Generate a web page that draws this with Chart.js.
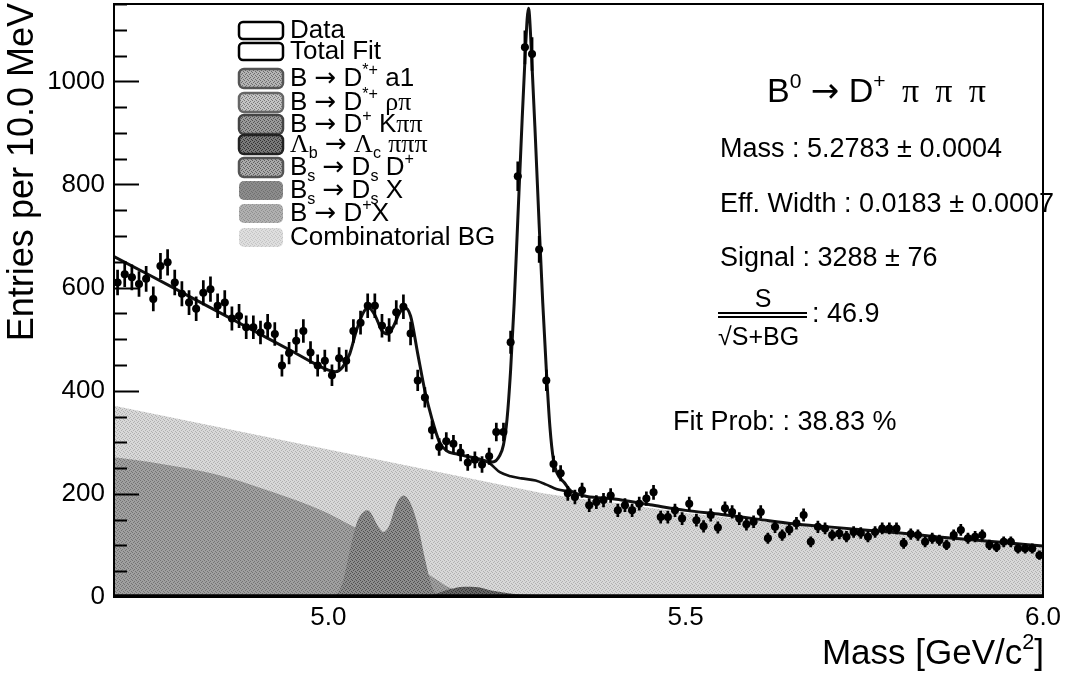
<!DOCTYPE html>
<html>
<head>
<meta charset="utf-8">
<script src="https://cdn.jsdelivr.net/npm/chart.js@4.4.0/dist/chart.umd.min.js"></script>
<style>
  html, body { margin: 0; padding: 0; background: #fff; }
  #wrap { width: 1067px; height: 675px; }
</style>
</head>
<body>
<div id="wrap"><canvas id="massPlot" width="1067" height="675"></canvas></div>
<script>
// ---------- histogram: entries per 10 MeV, 4.70 - 6.00 GeV ----------
const binLow = 4.70;
const binWidth = 0.01;
const counts = [
  610, 626, 620, 607, 617, 578, 642, 649, 610, 588,
  571, 559, 590, 597, 565, 571, 540, 545, 523, 523,
  513, 526, 510, 449, 473, 497, 516, 474, 449, 458,
  430, 463, 458, 516, 532, 565, 565, 526, 518, 552,
  563, 511, 420, 387, 324, 291, 302, 297, 280, 261,
  266, 257, 273, 320, 320, 494, 816, 1066, 1053, 674,
  420, 258, 240, 201, 194, 207, 178, 184, 188, 197,
  168, 178, 168, 181, 191, 203, 155, 155, 168, 152,
  181, 149, 137, 159, 135, 172, 165, 152, 141, 146,
  165, 114, 136, 120, 131, 143, 159, 107, 136, 133,
  120, 123, 117, 126, 124, 117, 126, 133, 133, 133,
  104, 122, 120, 107, 114, 110, 101, 120, 130, 114,
  117, 120, 101, 97, 107, 107, 94, 94, 94, 81
];

// ---------- total fit ----------
const fitMass = [4.70, 4.75, 4.80, 4.85, 4.90, 4.95, 4.98, 5.00, 5.01, 5.02,
  5.03, 5.04, 5.05, 5.056, 5.065, 5.075, 5.083, 5.09, 5.10, 5.107,
  5.115, 5.125, 5.135, 5.145, 5.155, 5.165, 5.18, 5.20, 5.22, 5.23,
  5.24, 5.245, 5.25, 5.255, 5.26, 5.265, 5.27, 5.275, 5.28, 5.285,
  5.29, 5.295, 5.30, 5.305, 5.31, 5.315, 5.32, 5.33, 5.34, 5.40,
  5.45, 5.50, 5.55, 5.60, 5.65, 5.70, 5.75, 5.80, 5.85, 5.90,
  5.95, 6.00];
const fitVal = [660, 624, 587, 550, 513, 476, 453, 440, 437, 446,
  472, 520, 554, 561, 547, 516, 510, 522, 552, 561,
  545, 472, 400, 345, 302, 284, 277, 271, 264, 262,
  275, 295, 345, 440, 570, 730, 890, 1040, 1142, 1030,
  880, 720, 570, 440, 330, 265, 240, 222, 205, 190,
  179, 168, 160, 151, 142, 136, 130, 124, 117, 111,
  105, 99];

// fit without the B0 signal, only where it leaves the total
const bgMass = [5.21, 5.225, 5.24, 5.255, 5.27, 5.29, 5.305, 5.32, 5.335, 5.345];
const bgVal  = [268, 260, 242, 234, 230, 226, 218, 209, 205, 203];

// ---------- filled components ----------
const combMass = [4.70, 5.30, 5.35, 5.40, 5.50, 5.60, 5.70, 5.80, 5.90, 6.00];
const combVal  = [371, 201, 191, 183, 163, 148, 134, 121, 109, 97];

const bdxMass = [4.70, 4.75, 4.80, 4.85, 4.90, 4.95, 5.00, 5.03, 5.06, 5.09, 5.12, 5.15, 5.17, 5.20, 5.25, 5.30];
const bdxVal  = [271, 262, 250, 235, 214, 190, 162, 140, 118, 92, 62, 35, 18, 7, 2, 0];

const bsddMass = [5.00, 5.01, 5.02, 5.03, 5.04, 5.05, 5.055, 5.06, 5.07, 5.077, 5.085, 5.095, 5.105, 5.115, 5.125, 5.135, 5.145, 5.155];
const bsddVal  = [0, 4, 28, 90, 145, 166, 168, 162, 136, 126, 138, 180, 197, 182, 140, 75, 20, 0];

const lbMass = [5.13, 5.15, 5.17, 5.19, 5.21, 5.23, 5.26, 5.30, 5.40, 5.50];
const lbVal  = [0, 6, 15, 20, 19, 12, 6, 4, 2, 0];

const yTicks = [0, 200, 400, 600, 800, 1000];
const xTicks = [5.0, 5.5, 6.0];

const SANS = '"Liberation Sans", Arial, Helvetica, sans-serif';
const SERIF = '"Liberation Serif", "Times New Roman", serif';
const ARROW = '"DejaVu Sans", sans-serif';

const binCentres = counts.map((_, i) => +(binLow + binWidth * (i + 0.5)).toFixed(3));
const pts = (xs, ys) => xs.map((x, i) => ({x: x, y: ys[i]}));

// small halftone tile, looks like the printed grey fills
function texture(light, dark) {
  const c = document.createElement('canvas');
  c.width = 4; c.height = 4;
  const g = c.getContext('2d');
  g.fillStyle = light; g.fillRect(0, 0, 4, 4);
  g.fillStyle = dark;
  [[0, 0], [2, 1], [1, 2], [3, 3]].forEach(p => g.fillRect(p[0], p[1], 1, 1));
  return g.createPattern(c, 'repeat');
}

const fillComb = texture('#d8d8d8', '#b0b0b0');
const fillBdx  = texture('#a0a0a0', '#747474');
const fillBsdd = texture('#8e8e8e', '#525252');
const fillLb   = texture('#666666', '#363636');

const RA = ['\u2192', 'a'];
// legend: [swatch, text parts]; parts are [text, mode] with u = sup, d = sub, g = greek, a = arrow
const legendRows = [
  {box: 'open', y: 38, parts: [['Data']]},
  {box: 'open', y: 59, parts: [['Total Fit']]},
  {box: texture('#b4b4b4', '#6c6c6c'), edge: '#555', y: 86, parts: [['B '], RA, [' D'], ['*+', 'u'], [' a1']]},
  {box: texture('#c4c4c4', '#7a7a7a'), edge: '#666', y: 110, parts: [['B '], RA, [' D'], ['*+', 'u'], [' '], ['\u03c1\u03c0', 'g']]},
  {box: texture('#9a9a9a', '#555555'), edge: '#444', y: 132, parts: [['B '], RA, [' D'], ['+', 'u'], [' K'], ['\u03c0\u03c0', 'g']]},
  {box: texture('#7a7a7a', '#333333'), edge: '#222', y: 152, parts: [['\u039b', 'g'], ['b', 'd'], [' '], RA, [' '], ['\u039b', 'g'], ['c', 'd'], [' '], ['\u03c0\u03c0\u03c0', 'g']]},
  {box: texture('#aaaaaa', '#606060'), edge: '#555', y: 175, parts: [['B'], ['s', 'd'], [' '], RA, [' D'], ['s', 'd'], [' D'], ['+', 'u']]},
  {box: texture('#8c8c8c', '#707070'), edge: null, y: 198, parts: [['B'], ['s', 'd'], [' '], RA, [' D'], ['s', 'd'], [' X']]},
  {box: texture('#b0b0b0', '#909090'), edge: null, y: 221, parts: [['B '], RA, [' D'], ['+', 'u'], ['X']]},
  {box: texture('#dedede', '#c4c4c4'), edge: null, y: 245, parts: [['Combinatorial BG']]}
];

function drawRich(ctx, x, y, parts, size) {
  let cx = x;
  parts.forEach(p => {
    const mode = p[1] || '';
    const small = mode === 'u' || mode === 'd';
    const s = small ? size * 0.62 : size;
    const fam = mode === 'g' ? SERIF : mode === 'a' ? ARROW : SANS;
    ctx.font = s.toFixed(1) + 'px ' + fam;
    const dy = mode === 'u' ? -size * 0.42 : mode === 'd' ? size * 0.24 : 0;
    ctx.fillText(p[0], cx, y + dy);
    cx += ctx.measureText(p[0]).width;
  });
  return cx - x;
}

function roundBox(ctx, x, y, w, h, r) {
  ctx.beginPath();
  ctx.moveTo(x + r, y);
  ctx.arcTo(x + w, y, x + w, y + h, r);
  ctx.arcTo(x + w, y + h, x, y + h, r);
  ctx.arcTo(x, y + h, x, y, r);
  ctx.arcTo(x, y, x + w, y, r);
  ctx.closePath();
}

//--------------- error bars on the data points ---------------//
const errorBars = {
  id: 'errorBars',
  afterDatasetsDraw(chart) {
    const {ctx, scales: {x, y}} = chart;
    ctx.save();
    ctx.strokeStyle = '#000';
    ctx.lineWidth = 2.7;
    counts.forEach((n, i) => {
      const m = binCentres[i];
      const err = Math.sqrt(n);
      const px = x.getPixelForValue(m);
      const py = y.getPixelForValue(n);
      ctx.beginPath();
      ctx.moveTo(px, y.getPixelForValue(n + err));
      ctx.lineTo(px, y.getPixelForValue(n - err));
      ctx.moveTo(x.getPixelForValue(m - binWidth / 2), py);
      ctx.lineTo(x.getPixelForValue(m + binWidth / 2), py);
      ctx.stroke();
    });
    ctx.restore();
  }
};

//--------------- frame and inward ticks ---------------//
const frame = {
  id: 'frame',
  afterDatasetsDraw(chart) {
    const {ctx, chartArea: a, scales: {y}} = chart;
    ctx.save();
    ctx.strokeStyle = '#000';
    ctx.lineWidth = 2;
    ctx.strokeRect(a.left, a.top, a.right - a.left, a.bottom - a.top);
    ctx.lineWidth = 3.5;
    ctx.beginPath();
    ctx.moveTo(a.left, a.bottom - 1);
    ctx.lineTo(a.right, a.bottom - 1);
    ctx.stroke();
    ctx.lineWidth = 2;
    for (let v = 50; v <= y.max; v += 50) {
      const py = Math.round(y.getPixelForValue(v)) + 0.5;
      const len = yTicks.includes(v) ? 25 : 13;
      ctx.beginPath();
      ctx.moveTo(a.left, py);
      ctx.lineTo(a.left + len, py);
      ctx.stroke();
    }
    ctx.restore();
  }
};

//--------------- titles, legend, fit results ---------------//
const texts = {
  id: 'texts',
  afterDraw(chart) {
    const ctx = chart.ctx;
    ctx.save();
    ctx.fillStyle = '#000';
    ctx.textBaseline = 'alphabetic';

    // y title, reads upward, ends at the top
    ctx.save();
    ctx.translate(33, 3);
    ctx.rotate(-Math.PI / 2);
    ctx.textAlign = 'right';
    ctx.font = '36px ' + SANS;
    ctx.fillText('Entries per 10.0 MeV', 0, 0);
    ctx.restore();

    // x title, right aligned to the frame
    ctx.textAlign = 'left';
    const xt = [['Mass [GeV/c'], ['2', 'u'], [']']];
    ctx.globalAlpha = 0;
    const w = drawRich(ctx, 0, -100, xt, 35);
    ctx.globalAlpha = 1;
    drawRich(ctx, 1044 - w, 664, xt, 35);

    // legend
    legendRows.forEach(r => {
      const bx = 239, bw = 44, bh = 17, by = r.y - 16;
      if (r.box === 'open') {
        roundBox(ctx, bx, by, bw, bh, 4);
        ctx.fillStyle = '#fff';
        ctx.fill();
        ctx.lineWidth = 2.5;
        ctx.strokeStyle = '#000';
        ctx.stroke();
      } else {
        roundBox(ctx, bx, by - 1, bw, bh + 2, 5);
        ctx.fillStyle = r.box;
        ctx.fill();
        if (r.edge) {
          ctx.lineWidth = 2.5;
          ctx.strokeStyle = r.edge;
          ctx.stroke();
        }
      }
      ctx.fillStyle = '#000';
      drawRich(ctx, 290, r.y, r.parts, 26);
    });

    // decay and fit results
    const gap = ' \u2009';
    drawRich(ctx, 767, 102, [['B'], ['0', 'u'], [' '], ['\u2192', 'a'], [' D'], ['+', 'u'], [gap], ['\u03c0', 'g'], [gap], ['\u03c0', 'g'], [gap], ['\u03c0', 'g']], 34);
    ctx.font = '27px ' + SANS;
    ctx.fillText('Mass : 5.2783 \u00b1 0.0004', 720, 157);
    ctx.fillText('Eff. Width : 0.0183 \u00b1 0.0007', 720, 212);
    ctx.fillText('Signal : 3288 \u00b1 76', 720, 266);
    ctx.fillText('Fit Prob: : 38.83 %', 673, 430);

    ctx.font = '25px ' + SANS;
    ctx.textAlign = 'center';
    ctx.fillText('S', 763, 307);
    ctx.textAlign = 'left';
    ctx.fillText('\u221aS+BG', 718, 345);
    ctx.font = '27px ' + SANS;
    ctx.fillText(': 46.9', 812, 322);
    ctx.fillRect(718, 312, 89, 2);
    ctx.fillRect(718, 316, 89, 2);
    ctx.restore();
  }
};

Chart.defaults.font.family = SANS;
Chart.defaults.color = '#000';

const massChart = new Chart(document.getElementById('massPlot'), {
  type: 'line',
  data: {
    datasets: [
      {
        label: 'Data',
        data: pts(binCentres, counts),
        showLine: false,
        pointRadius: 4,
        pointBackgroundColor: '#000',
        pointBorderWidth: 0,
        order: 0
      },
      {
        label: 'Total Fit',
        data: pts(fitMass, fitVal),
        borderColor: '#111',
        borderWidth: 3,
        pointRadius: 0,
        cubicInterpolationMode: 'monotone',
        fill: false,
        order: 1
      },
      {
        label: 'Background',
        data: pts(bgMass, bgVal),
        borderColor: '#111',
        borderWidth: 2.6,
        pointRadius: 0,
        cubicInterpolationMode: 'monotone',
        fill: false,
        order: 2
      },
      {
        label: 'Lambda_b',
        data: pts(lbMass, lbVal),
        backgroundColor: fillLb,
        borderWidth: 0,
        pointRadius: 0,
        cubicInterpolationMode: 'monotone',
        fill: 'origin',
        order: 3
      },
      {
        label: 'Bs -> Ds D+',
        data: pts(bsddMass, bsddVal),
        backgroundColor: fillBsdd,
        borderWidth: 0,
        pointRadius: 0,
        cubicInterpolationMode: 'monotone',
        fill: 'origin',
        order: 4
      },
      {
        label: 'B -> D+ X',
        data: pts(bdxMass, bdxVal),
        backgroundColor: fillBdx,
        borderWidth: 0,
        pointRadius: 0,
        cubicInterpolationMode: 'monotone',
        fill: 'origin',
        order: 5
      },
      {
        label: 'Combinatorial BG',
        data: pts(combMass, combVal),
        backgroundColor: fillComb,
        borderWidth: 0,
        pointRadius: 0,
        fill: 'origin',
        order: 6
      }
    ]
  },
  options: {
    responsive: false,
    animation: false,
    devicePixelRatio: 1,
    layout: {padding: {top: 3, right: 24, left: 0, bottom: 0}},
    plugins: {legend: {display: false}, tooltip: {enabled: false}},
    scales: {
      x: {
        type: 'linear',
        min: 4.70,
        max: 6.00,
        grid: {display: false, drawTicks: false},
        border: {display: false},
        afterBuildTicks: s => { s.ticks = xTicks.map(v => ({value: v})); },
        afterFit: s => { s.height = 78; s.paddingLeft = 0; s.paddingRight = 0; },
        ticks: {
          autoSkip: false,
          maxRotation: 0,
          padding: 5,
          font: {size: 26},
          callback: v => Number(v).toFixed(1)
        }
      },
      y: {
        min: 0,
        max: 1150,
        grid: {display: false, drawTicks: false},
        border: {display: false},
        afterBuildTicks: s => { s.ticks = yTicks.map(v => ({value: v})); },
        afterFit: s => { s.width = 114; s.paddingTop = 0; s.paddingBottom = 0; },
        ticks: {
          padding: 9,
          font: {size: 26},
          callback: v => String(v)
        }
      }
    }
  },
  plugins: [errorBars, frame, texts]
});
</script>
</body>
</html>
